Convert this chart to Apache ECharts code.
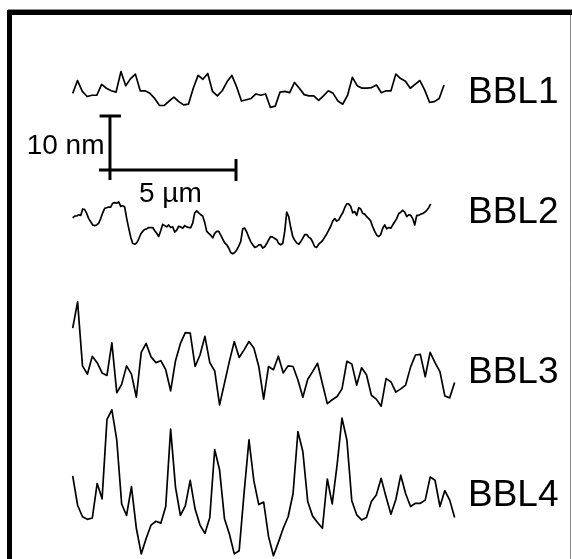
<!DOCTYPE html>
<html>
<head>
<meta charset="utf-8">
<script src="https://cdn.jsdelivr.net/npm/echarts@6/dist/echarts.min.js"></script>
<style>
  html, body { margin: 0; padding: 0; background: #ffffff; }
  #chart { width: 572px; height: 559px; }
</style>
</head>
<body>
<div id="chart"></div>
<script>
// Surface height profiles (nm) sampled along the scan (µm)
const sampleNames = ['BBL1', 'BBL2', 'BBL3', 'BBL4'];

const profileBBL1 = [2.6, 4.6, 2.9, 2.1, 2.3, 2.3, 4.0, 3.4, 3.0, 2.8, 6.0, 3.8, 4.9, 5.6, 3.0, 3.0, 2.6, 1.8, 0.7, 0.7,
  1.4, 2.0, 1.3, 0.8, 0.9, 3.4, 5.4, 4.8, 5.7, 2.9, 2.2, 3.0, 4.4, 5.4, 3.6, 1.4, 1.6, 1.8, 2.5, 2.3,
  2.5, 0.4, 0.6, 2.8, 2.9, 2.7, 4.3, 3.4, 2.4, 2.2, 2.2, 1.5, 2.2, 3.0, 2.6, 1.4, 0.9, 2.3, 5.1, 3.8,
  3.4, 3.4, 3.5, 3.9, 2.7, 3.0, 3.0, 5.6, 4.9, 4.5, 3.4, 4.0, 4.6, 3.1, 1.2, 1.3, 1.8, 3.9];

const profileBBL2 = [6.1, 6.4, 6.4, 6.6, 6.5, 7.5, 7.4, 6.8, 6.0, 5.5, 5.0, 4.9, 5.0, 5.3, 6.0, 6.9, 7.6, 7.7, 7.8, 7.8,
  8.4, 8.5, 8.4, 8.6, 7.9, 8.0, 7.8, 6.0, 4.5, 3.1, 2.1, 2.0, 2.2,
  2.8, 3.6, 4.0, 4.3, 4.4, 4.6, 4.6, 4.6, 4.1, 3.7, 3.2, 4.1, 5.1, 4.9, 4.7, 5.0, 4.6, 4.7, 3.9, 4.2,
  4.8, 4.7, 4.5, 4.9, 4.7, 4.6, 4.6, 5.3, 6.9, 7.2, 6.9, 6.6, 6.4, 5.4, 4.0, 3.7, 3.4, 3.0, 3.7, 4.0,
  4.0, 3.4, 2.8, 2.2, 1.9, 1.4, 0.7, 0.5, 0.7, 1.1, 1.7, 2.4, 4.4, 4.5, 3.9, 3.1, 2.4, 1.9, 1.5, 1.6,
  1.9, 1.9, 1.4, 1.6, 2.1, 2.7, 3.2, 3.1, 2.9, 2.7, 2.1, 1.9, 2.1, 4.0, 7.0, 6.3, 4.6, 3.2, 2.6, 2.2,
  2.0, 2.4, 2.9, 3.5, 3.5, 3.1, 2.9, 2.3, 1.6, 1.5, 2.0, 2.3, 2.6, 3.1, 3.6, 4.2, 4.8, 5.6, 6.0, 5.6,
  5.8, 6.4, 6.9, 7.7, 8.3, 8.3, 7.9, 6.9, 7.1, 6.5, 7.7, 7.5, 6.8, 6.7, 6.3, 6.0, 5.6, 4.7, 4.0, 3.4,
  3.2, 3.5, 4.5, 5.0, 4.4, 4.6, 4.5, 5.0, 5.5, 6.0, 6.8, 7.0, 7.3, 7.0, 6.3, 6.6, 6.5, 6.0, 5.0, 6.5,
  6.5, 6.7, 6.8, 7.0, 7.3, 7.7, 8.3];

const profileBBL3 = [12.8, 16.9, 6.9, 5.6, 8.4, 7.4, 5.8, 5.4, 10.5, 2.7, 4.0, 6.9, 5.6, 2.0, 9.0, 10.4, 8.3, 7.4, 7.7, 6.3,
  3.0, 7.7, 10.4, 12.1, 12.0, 6.8, 8.6, 11.5, 7.4, 6.1, 0.8, 4.2, 7.6, 10.7, 8.2, 9.4, 10.7, 9.7, 6.8, 1.7,
  6.8, 6.3, 8.4, 5.8, 6.9, 6.8, 4.7, 2.0, 4.8, 6.0, 7.3, 4.1, 1.0, 1.6, 2.1, 3.3, 7.6, 7.2, 3.9, 6.6,
  5.5, 2.3, 1.7, 0.6, 4.9, 4.4, 2.8, 3.3, 3.9, 6.7, 8.6, 8.7, 5.2, 9.0, 7.4, 6.0, 2.2, 1.9, 4.3];

const profileBBL4 = [13.0, 8.4, 6.6, 6.2, 6.4, 11.8, 9.4, 21.8, 23.3, 18.6, 8.6, 6.8, 11.3, 4.8, 0.8, 3.2, 5.3, 5.9, 5.6, 8.2,
  20.3, 11.2, 6.8, 8.3, 12.3, 7.8, 5.3, 4.0, 6.5, 17.1, 13.9, 6.3, 3.9, 0.8, 1.3, 10.3, 18.6, 12.2, 8.5, 8.9,
  3.5, 0.5, 2.6, 4.8, 6.6, 10.2, 19.9, 16.8, 9.0, 6.7, 5.7, 4.8, 12.5, 8.6, 14.7, 22.0, 18.6, 9.1, 6.9, 6.1,
  6.5, 9.0, 10.0, 12.6, 9.7, 7.0, 9.3, 13.1, 10.2, 8.2, 8.7, 8.7, 9.2, 12.8, 12.3, 8.2, 10.7, 9.2, 6.5];

// Lateral sampling step of each scan (µm)
const sampleSteps = [0.176, 0.073, 0.1787, 0.1787];

// Scale bar lengths
const scaleLateral = 5;    // µm
const scaleHeight = 10;    // nm
const scaleLabels = ['10 nm', '5 µm'];

// ---- layout ----
const PX_PER_UM = 27.4;
const PX_PER_NM = 6.4;
const W = 572, H = 559;
const GRID_LEFT = 72.7;
const X_SPAN = 14;                    // µm shown across the plotting width
const Y_SPAN = H / PX_PER_NM;         // nm shown across the full height
const stackOffsets = [70.16, 47.19, 23.28, 0];   // vertical stacking of the traces (nm)
const labelCentersY = [92.5, 212.5, 372.5, 495.5];
const FONT = '"Liberation Sans", Arial, Helvetica, sans-serif';

const profiles = [profileBBL1, profileBBL2, profileBBL3, profileBBL4];

const traceSeries = profiles.map((heights, k) => ({
  name: sampleNames[k],
  type: 'line',
  data: heights.map((h, i) => [i * sampleSteps[k], stackOffsets[k] + h]),
  showSymbol: false,
  symbol: 'none',
  smooth: false,
  silent: true,
  lineStyle: { color: '#000', width: 1.7, join: 'round' },
  z: 3
}));

// Scale bar anchored near the upper-left, drawn in data units
const sbX = 0.96, sbY = 60.78;                  // left end of the lateral bar
const sbVX = 1.36, sbVBottom = 59.22;           // vertical bar position and foot
const sbVTop = sbVBottom + scaleHeight;
const sbRight = sbX + scaleLateral;
const barStyle = { color: '#000', width: 3, cap: 'butt' };
const segment = (pts) => ({
  type: 'line', data: pts, showSymbol: false, symbol: 'none', silent: true,
  lineStyle: barStyle, z: 4
});
const scaleSeries = [
  segment([[sbX, sbY], [sbRight, sbY]]),
  segment([[sbVX, sbVBottom], [sbVX, sbVTop]]),
  segment([[sbVX - 0.38, sbVTop], [sbVX + 0.4, sbVTop]]),
  segment([[sbRight, sbY - 1.72], [sbRight, sbY + 1.72]])
];

const chart = echarts.init(document.getElementById('chart'), null, { renderer: 'canvas', width: W, height: H });

const graphics = [
  // frame
  { type: 'line', shape: { x1: 8, y1: 9.5, x2: W, y2: 9.5 }, style: { stroke: '#8a8a8a', lineWidth: 1 }, z: 10 },
  { type: 'line', shape: { x1: 570.5, y1: 10, x2: 570.5, y2: H }, style: { stroke: '#8a8a8a', lineWidth: 1 }, z: 10 },
  { type: 'rect', shape: { x: 7, y: 10, width: W - 7, height: 5 }, style: { fill: '#000' }, z: 11 },
  { type: 'rect', shape: { x: 7, y: 10, width: 5, height: H - 10 }, style: { fill: '#000' }, z: 11 },
  // scale bar labels
  { type: 'text', x: 104.5, y: 146, style: { text: scaleLabels[0], font: '28px ' + FONT, fill: '#000', align: 'right', verticalAlign: 'middle', textAlign: 'right', textVerticalAlign: 'middle' }, z: 12 },
  { type: 'text', x: 139, y: 194.5, style: { text: scaleLabels[1], font: '28px ' + FONT, fill: '#000', align: 'left', verticalAlign: 'middle', textAlign: 'left', textVerticalAlign: 'middle' }, z: 12 }
];
sampleNames.forEach((name, k) => {
  graphics.push({
    type: 'text', x: 468, y: labelCentersY[k],
    style: { text: name, font: '37px ' + FONT, fill: '#000', align: 'left', verticalAlign: 'middle', textAlign: 'left', textVerticalAlign: 'middle' },
    z: 12
  });
});

chart.setOption({
  animation: false,
  backgroundColor: '#ffffff',
  grid: { left: GRID_LEFT, top: 0, width: X_SPAN * PX_PER_UM, height: H, containLabel: false },
  xAxis: { type: 'value', min: 0, max: X_SPAN, show: false },
  yAxis: { type: 'value', min: 0, max: Y_SPAN, show: false },
  series: traceSeries.concat(scaleSeries),
  graphic: graphics
});
</script>
</body>
</html>
